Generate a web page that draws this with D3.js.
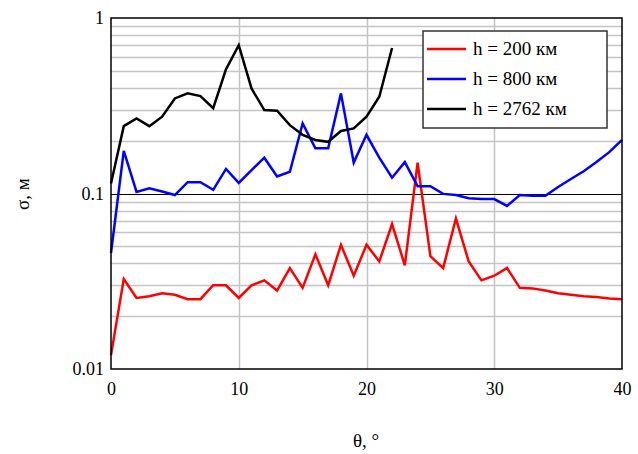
<!DOCTYPE html>
<html><head><meta charset="utf-8">
<script src="https://cdn.jsdelivr.net/npm/d3@7"></script>
<style>body{margin:0;background:#fff}svg{display:block}</style>
</head><body>
<svg id="c" width="638" height="454"></svg>
<script>
const theta = d3.range(0, 41);
const sigma200 = [0.012,0.0326,0.0254,0.026,0.027,0.0265,0.025,0.025,0.030,0.030,0.0254,0.030,0.032,0.028,0.0376,0.029,0.045,0.030,0.051,0.034,0.051,0.041,0.067,0.039,0.15,0.044,0.0376,0.072,0.041,0.032,0.034,0.0376,0.029,0.0288,0.028,0.027,0.0265,0.026,0.0257,0.0252,0.025];
const sigma800 = [0.0458,0.175,0.102,0.107,0.1026,0.098,0.116,0.116,0.105,0.138,0.115,0.136,0.160,0.125,0.133,0.251,0.181,0.181,0.372,0.150,0.216,0.160,0.123,0.151,0.110,0.110,0.0995,0.098,0.094,0.093,0.093,0.085,0.098,0.097,0.097,0.109,0.121,0.134,0.151,0.172,0.202];
const sigma2762 = [0.114,0.242,0.268,0.242,0.274,0.348,0.372,0.359,0.306,0.51,0.70,0.397,0.299,0.296,0.245,0.216,0.202,0.197,0.227,0.235,0.274,0.356,0.675];
const xTicks = [0,10,20,30,40];
const yTicks = [0.01,0.1,1];
const yTickLabels = ["0.01","0.1","1"];
const seriesNames = ["h = 200 км","h = 800 км","h = 2762 км"];
const seriesColors = ["#ff0000","#0000ff","#000000"];
const seriesData = [sigma200, sigma800, sigma2762];

const svg = d3.select("#c");
const L = 111, R = 622, T = 18, B = 369;
const x = d3.scaleLinear().domain([0,40]).range([L,R]);
const y = d3.scaleLog().domain([0.01,1]).range([B,T]);
const serif = "'Liberation Serif','Times New Roman',serif";

// minor horizontal grid
const minor = [];
[0.01,0.1].forEach(d=>{for(let k=2;k<=9;k++) minor.push(d*k);});
svg.append("g").selectAll("line").data(minor).join("line")
  .attr("x1",L).attr("x2",R).attr("y1",d=>Math.round(y(d))+0.5).attr("y2",d=>Math.round(y(d))+0.5)
  .attr("stroke","#c4c4c4").attr("stroke-width",1.5);
// vertical grid
svg.append("g").selectAll("line").data([10,20,30]).join("line")
  .attr("x1",d=>Math.round(x(d))+0.5).attr("x2",d=>Math.round(x(d))+0.5).attr("y1",T).attr("y2",B)
  .attr("stroke","#c4c4c4").attr("stroke-width",1.5);
// major 0.1 line
svg.append("line").attr("x1",L).attr("x2",R).attr("y1",Math.round(y(0.1))+0.5).attr("y2",Math.round(y(0.1))+0.5)
  .attr("stroke","#000").attr("stroke-width",1.2);

// series
const line = d3.line().x((d,i)=>x(theta[i])).y(d=>y(d));
seriesData.forEach((s,i)=>{
  svg.append("path").datum(s).attr("d",line).attr("fill","none")
    .attr("stroke",seriesColors[i]).attr("stroke-width",2.5).attr("stroke-linejoin","miter");
});

// frame
svg.append("rect").attr("x",L).attr("y",T).attr("width",R-L).attr("height",B-T)
  .attr("fill","none").attr("stroke","#000").attr("stroke-width",1.5);

// axes labels
const xAxis = d3.axisBottom(x).tickValues(xTicks).tickSize(0).tickPadding(13).tickFormat(d3.format("d"));
const gx = svg.append("g").attr("transform",`translate(0,${B})`).call(xAxis);
gx.select(".domain").remove();
gx.selectAll("text").attr("font-family",serif).attr("font-size",18).attr("fill","#000");
const yAxis = d3.axisLeft(y).tickValues(yTicks).tickSize(0).tickPadding(7).tickFormat((d,i)=>yTickLabels[i]);
const gy = svg.append("g").attr("transform",`translate(${L},0)`).call(yAxis);
gy.select(".domain").remove();
gy.selectAll("text").attr("font-family",serif).attr("font-size",18).attr("fill","#000");

svg.append("text").attr("x",366).attr("y",447).attr("text-anchor","middle")
  .attr("font-family",serif).attr("font-size",19).text("θ, °");
svg.append("text").attr("transform","translate(29,194) rotate(-90)").attr("text-anchor","middle")
  .attr("font-family",serif).attr("font-size",19).text("σ, м");

// legend
const lg = svg.append("g");
lg.append("rect").attr("x",423).attr("y",31).attr("width",184).attr("height",97)
  .attr("fill","#fff").attr("stroke","#333").attr("stroke-width",1.5);
seriesNames.forEach((n,i)=>{
  const cy = 49 + i*30;
  lg.append("line").attr("x1",427).attr("x2",466).attr("y1",cy).attr("y2",cy)
    .attr("stroke",seriesColors[i]).attr("stroke-width",2.5);
  lg.append("text").attr("x",473).attr("y",cy+6).attr("font-family",serif).attr("font-size",19).text(n);
});
</script>
</body></html>
